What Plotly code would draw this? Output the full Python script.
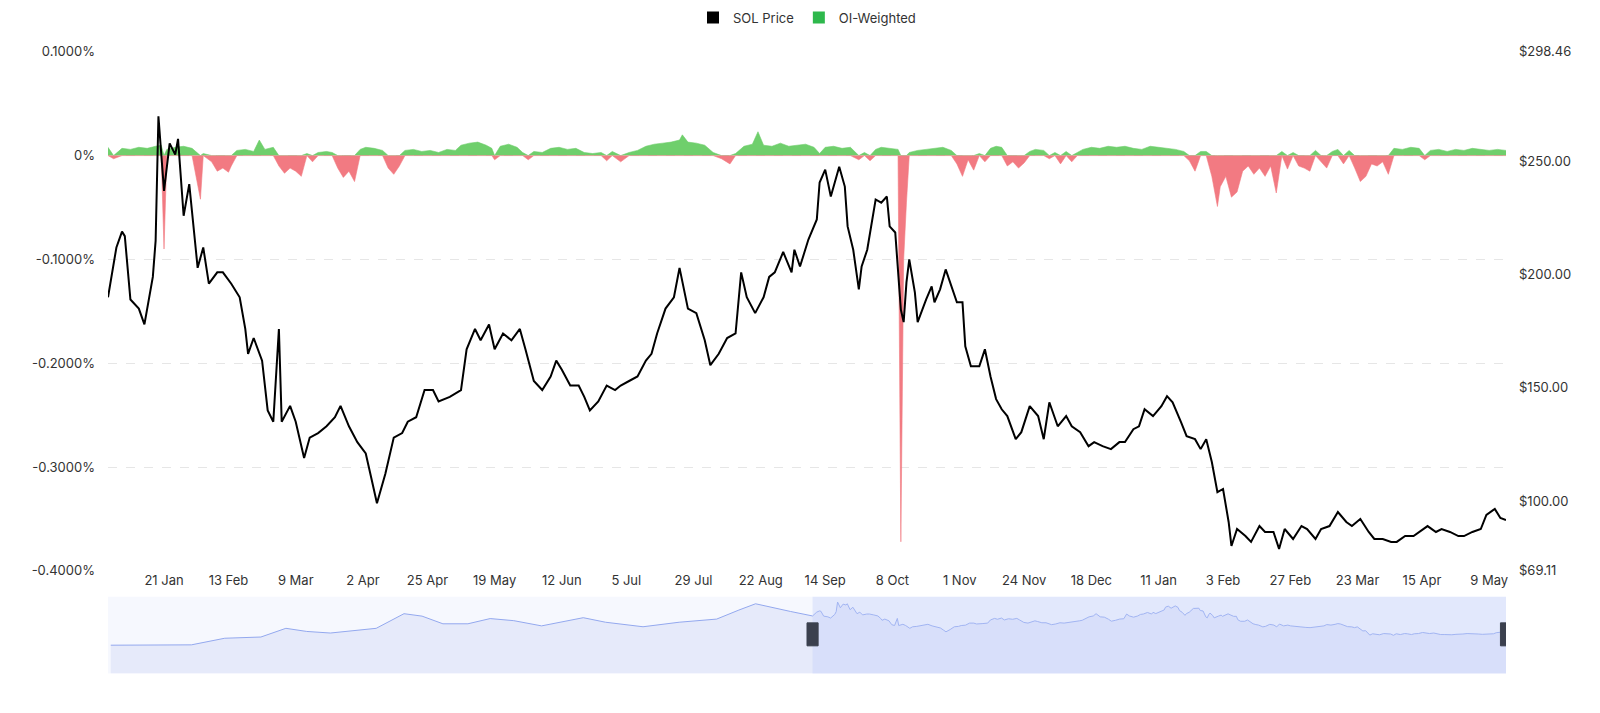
import pandas as pd
import plotly.graph_objects as go

START = pd.Timestamp("2025-01-01")

# SOL price (day offset from 2025-01-01, USD)
price_days = [0,3,5,6,8,11,13,16,17,18,20,22,24,25,27,29,32,34,36,39,41,44,47,49,50,52,55,57,59,61,62,65,67,70,72,75,78,81,83,86,89,92,94,96,99,102,105,107,110,113,116,118,122,126,128,131,133,136,138,141,144,147,149,152,155,158,160,162,165,168,170,172,175,178,181,183,186,189,192,194,196,199,202,204,207,210,213,215,218,221,224,226,228,231,234,236,238,241,
              244,245,247,250,253,254,256,258,261,263,264,266,268,269,271,274,276,278,279,281,283,284,285,286,288,289,292,294,295,297,299,301,303,305,306,308,311,313,315,317,319,321,324,326,329,332,334,336,339,342,344,347,350,352,355,358,361,363,366,368,370,373,376,378,380,383,385,388,390,392,394,396,398,400,401,403,406,408,411,413,416,418,420,423,426,428,431,433,436,439,442,444,447,450,452,455,458,460,463,466,468,471,474,476,479,482,484,487,490,492,495,497,499]
price_vals = [190,212,219,217,189,185,178,199,215,270,237,258,253,260,226,240,203,212,196,201,201,196,190,176,165,172,162,140,135,176,135,142,135,119,128,130,133,137,142,133,126,121,110,99,112,128,130,135,137,149,149,144,146,149,167,176,171,178,167,174,171,176,167,153,149,155,162,158,151,151,146,140,144,151,149,151,153,155,162,165,174,185,190,203,185,183,171,160,165,172,174,201,190,183,190,199,201,210,
              201,211,203.6,215.5,224.4,240.7,246.4,234.5,247.7,238.9,221.3,211,193.5,203.6,211,233.2,231.8,234.5,221.3,218.6,184.6,179,196.6,206.7,192.2,179,189,194.8,187.8,193.5,202.3,194.8,187.8,187.8,168.3,159.5,159.5,167,155,145,140.5,137.5,127.3,130.4,141.9,137.5,127.3,143.6,133,137.5,133,130.4,124.2,126,124.2,122.9,126,126,131.7,133,140.5,137.5,141.9,146.3,143.6,134.8,128.6,127.3,122.9,127.3,117.2,103.9,105.3,90.7,80.1,87.6,84.5,81.9,88.9,86.3,86.3,78.8,87.6,83.2,88.9,87.6,83.2,87.6,88.9,95.1,90.7,88.9,92,86.3,83.2,83.2,81.9,81.9,84.5,84.5,86.3,88.9,86.3,87.6,86.3,84.5,84.5,86.3,87.6,93.8,96.5,92.5,91.6]

# OI-weighted funding rate (day offset, %)
fr_days = [0,2,5,8,11,14,17,19,20,21,24,27,30,33,34,37,39,41,43,44,46,49,52,54,56,59,61,63,65,67,69,71,73,75,78,80,82,84,86,88,90,92,95,98,100,102,104,106,109,112,115,118,121,124,126,129,132,135,137,138,140,143,146,148,150,152,155,158,161,164,167,170,173,176,178,180,183,186,189,192,195,198,201,204,205,207,210,213,216,219,222,224,227,230,232,234,237,240,243,246,249,252,254,256,259,262,265,268,270,272,274,276,279,282,283,284,285,286,289,292,295,298,301,303,305,307,309,311,313,315,317,319,321,323,325,327,329,331,334,336,338,340,342,344,346,348,351,354,357,360,363,366,369,372,375,378,381,384,386,388,390,392,394,396,397,399,401,403,405,407,409,411,413,415,417,419,421,423,425,427,429,431,433,435,437,439,441,443,445,447,449,451,453,455,457,459,462,465,468,470,472,475,478,481,484,487,490,493,496,499]
fr_vals = [0.008,-0.003,0.007,0.006,0.008,0.007,0.009,0.01,-0.09,0.006,0.008,0.009,0.007,-0.042,0.002,-0.006,-0.015,-0.012,-0.016,-0.01,0.005,0.006,0.004,0.015,0.006,0.008,-0.01,-0.017,-0.012,-0.015,-0.02,0.002,-0.006,0.003,0.004,0.003,-0.012,-0.021,-0.015,-0.025,0.006,0.008,0.007,0.005,-0.012,-0.018,-0.01,0.005,0.006,0.004,0.005,0.003,0.006,0.005,0.01,0.012,0.013,0.01,0.007,-0.004,0.009,0.011,0.008,0.003,-0.004,0.004,0.003,0.007,0.008,0.006,0.007,0.003,0.002,0.003,-0.005,0.004,-0.006,0.003,0.005,0.009,0.011,0.012,0.013,0.015,0.02,0.013,0.012,0.01,0.003,-0.003,-0.008,0.002,0.009,0.011,0.023,0.01,0.009,0.012,0.009,0.01,0.011,0.008,0.002,0.008,0.009,0.007,0.008,-0.004,0.003,-0.005,0.006,0.008,0.007,0.006,-0.372,-0.1,-0.045,0.003,0.005,0.006,0.007,0.008,0.005,-0.008,-0.02,-0.004,-0.014,0.002,-0.006,0.007,0.009,0.008,-0.01,-0.006,-0.012,-0.007,0.004,0.006,0.005,-0.003,0.003,-0.008,0.004,-0.006,0.003,0.006,0.008,0.007,0.009,0.008,0.009,0.007,0.006,0.009,0.008,0.007,0.006,0.004,-0.005,-0.015,0.004,0.004,-0.02,-0.049,-0.03,-0.02,-0.04,-0.035,-0.015,-0.01,-0.018,-0.012,-0.02,-0.01,-0.036,0.004,-0.013,0.003,-0.01,-0.012,-0.015,0.005,-0.006,-0.012,0.004,0.006,-0.008,0.005,-0.012,-0.025,-0.02,-0.008,-0.01,-0.006,-0.018,0.007,0.006,0.008,0.007,-0.004,0.005,0.006,0.004,0.006,0.005,0.007,0.006,0.005,0.006,0.005]

# Overview (range slider) history before the main window (day offset, USD)
hist_days = [-505,-447,-423,-397,-379,-364,-347,-314,-294,-281,-266,-248,-232,-215,-195,-165,-149,-122,-96,-69,-53,-41,-16,-6]
hist_vals = [22,24,62,69,119,101,92,119,203,189,145,145,175,163,133,180,154,128,154,172,224,260,216,198]

left_ticks = [0.1, 0, -0.1, -0.2, -0.3, -0.4]
left_labels = ["0.1000%", "0%", "-0.1000%", "-0.2000%", "-0.3000%", "-0.4000%"]
right_ticks = [69.11, 100, 150, 200, 250, 298.46]
right_labels = ["$69.11", "$100.00", "$150.00", "$200.00", "$250.00", "$298.46"]
x_ticks = ["2025-01-21","2025-02-13","2025-03-09","2025-04-02","2025-04-25","2025-05-19","2025-06-12",
           "2025-07-05","2025-07-29","2025-08-22","2025-09-14","2025-10-08","2025-11-01","2025-11-24",
           "2025-12-18","2026-01-11","2026-02-03","2026-02-27","2026-03-23","2026-04-15","2026-05-09"]
OV_MIN, OV_MAX = -140, 300

def to_dates(days):
    return [START + pd.Timedelta(days=d) for d in days]

pdates = to_dates(price_days)
fdates = to_dates(fr_days)
pos = [v if v > 0 else 0 for v in fr_vals]
neg = [v if v < 0 else 0 for v in fr_vals]

FONT = "Inter, Roboto, sans-serif"
fig = go.Figure()
fig.add_trace(go.Scatter(x=fdates, y=pos, mode="lines", line=dict(color="#6fcf6c", width=0.6),
                         fill="tozeroy", fillcolor="#6fcf6c", showlegend=False, hoverinfo="skip"))
fig.add_trace(go.Scatter(x=fdates, y=neg, mode="lines", line=dict(color="#f27a82", width=0.6),
                         fill="tozeroy", fillcolor="#f27a82", showlegend=False, hoverinfo="skip"))
fig.add_trace(go.Scatter(x=pdates, y=price_vals, yaxis="y2", mode="lines",
                         line=dict(color="#000000", width=2), showlegend=False))
fig.add_trace(go.Scatter(x=[None], y=[None], mode="markers", name="SOL Price",
                         marker=dict(symbol="square", size=12, color="#000000")))
fig.add_trace(go.Scatter(x=[None], y=[None], mode="markers", name="OI-Weighted",
                         marker=dict(symbol="square", size=12, color="#2eb84c")))
ov_dates = to_dates(hist_days) + pdates
ov_vals = hist_vals + price_vals
fig.add_trace(go.Scatter(x=[ov_dates[0], ov_dates[-1]], y=[OV_MIN, OV_MIN], xaxis="x2", yaxis="y3",
                         mode="lines", line=dict(width=0), showlegend=False, hoverinfo="skip"))
fig.add_trace(go.Scatter(x=ov_dates, y=ov_vals, xaxis="x2", yaxis="y3", mode="lines",
                         line=dict(color="#93a8ee", width=1), fill="tonexty",
                         fillcolor="rgba(210,218,247,0.45)", showlegend=False, hoverinfo="skip"))

x_start = START
x_end = START + pd.Timedelta(days=499)
ov_start = START + pd.Timedelta(days=-507)

fig.update_layout(
    width=1600, height=713, paper_bgcolor="white", plot_bgcolor="white",
    margin=dict(l=100, r=102, t=40, b=40, autoexpand=False),
    font=dict(family=FONT, size=13, color="#333"),
    legend=dict(orientation="h", x=0.5, xanchor="center", y=1.048, yanchor="middle",
                traceorder="normal", font=dict(size=13, color="#333")),
    xaxis=dict(domain=[0, 1], range=[x_start, x_end], tickvals=x_ticks, tickformat="%-d %b",
               showgrid=False, showline=False, zeroline=False, ticks="", anchor="y"),
    yaxis=dict(domain=[0.174, 0.994], range=[-0.4, 0.1], tickvals=left_ticks, ticktext=left_labels,
               showgrid=True, gridcolor="#e6e6e6", griddash="dash", zeroline=False, ticklabelstandoff=12),
    yaxis2=dict(overlaying="y", side="right", range=[69.11, 298.46], tickvals=right_ticks,
                ticktext=right_labels, showgrid=False, zeroline=False, ticklabelstandoff=12),
    xaxis2=dict(domain=[0, 1], range=[ov_start, x_end], anchor="y3", visible=False),
    yaxis3=dict(domain=[0.012, 0.133], range=[OV_MIN, OV_MAX], visible=False),
    shapes=[
        dict(type="rect", xref="x2", yref="y3 domain", x0=ov_start, x1=x_end, y0=0, y1=1,
             fillcolor="rgba(230,235,252,0.35)", line=dict(width=0), layer="below"),
        dict(type="rect", xref="x2", yref="y3 domain", x0=x_start, x1=x_end, y0=0, y1=1,
             fillcolor="rgba(190,204,250,0.35)", line=dict(width=0)),
        dict(type="rect", xref="x2", yref="y3 domain", x0=x_start - pd.Timedelta(days=4),
             x1=x_start + pd.Timedelta(days=4), y0=0.36, y1=0.66, fillcolor="#3b404e",
             line=dict(color="#3b404e", width=1)),
        dict(type="rect", xref="x2", yref="y3 domain", x0=x_end - pd.Timedelta(days=4),
             x1=x_end + pd.Timedelta(days=4), y0=0.36, y1=0.66, fillcolor="#3b404e",
             line=dict(color="#3b404e", width=1)),
    ],
)
fig.write_html("out.html")
